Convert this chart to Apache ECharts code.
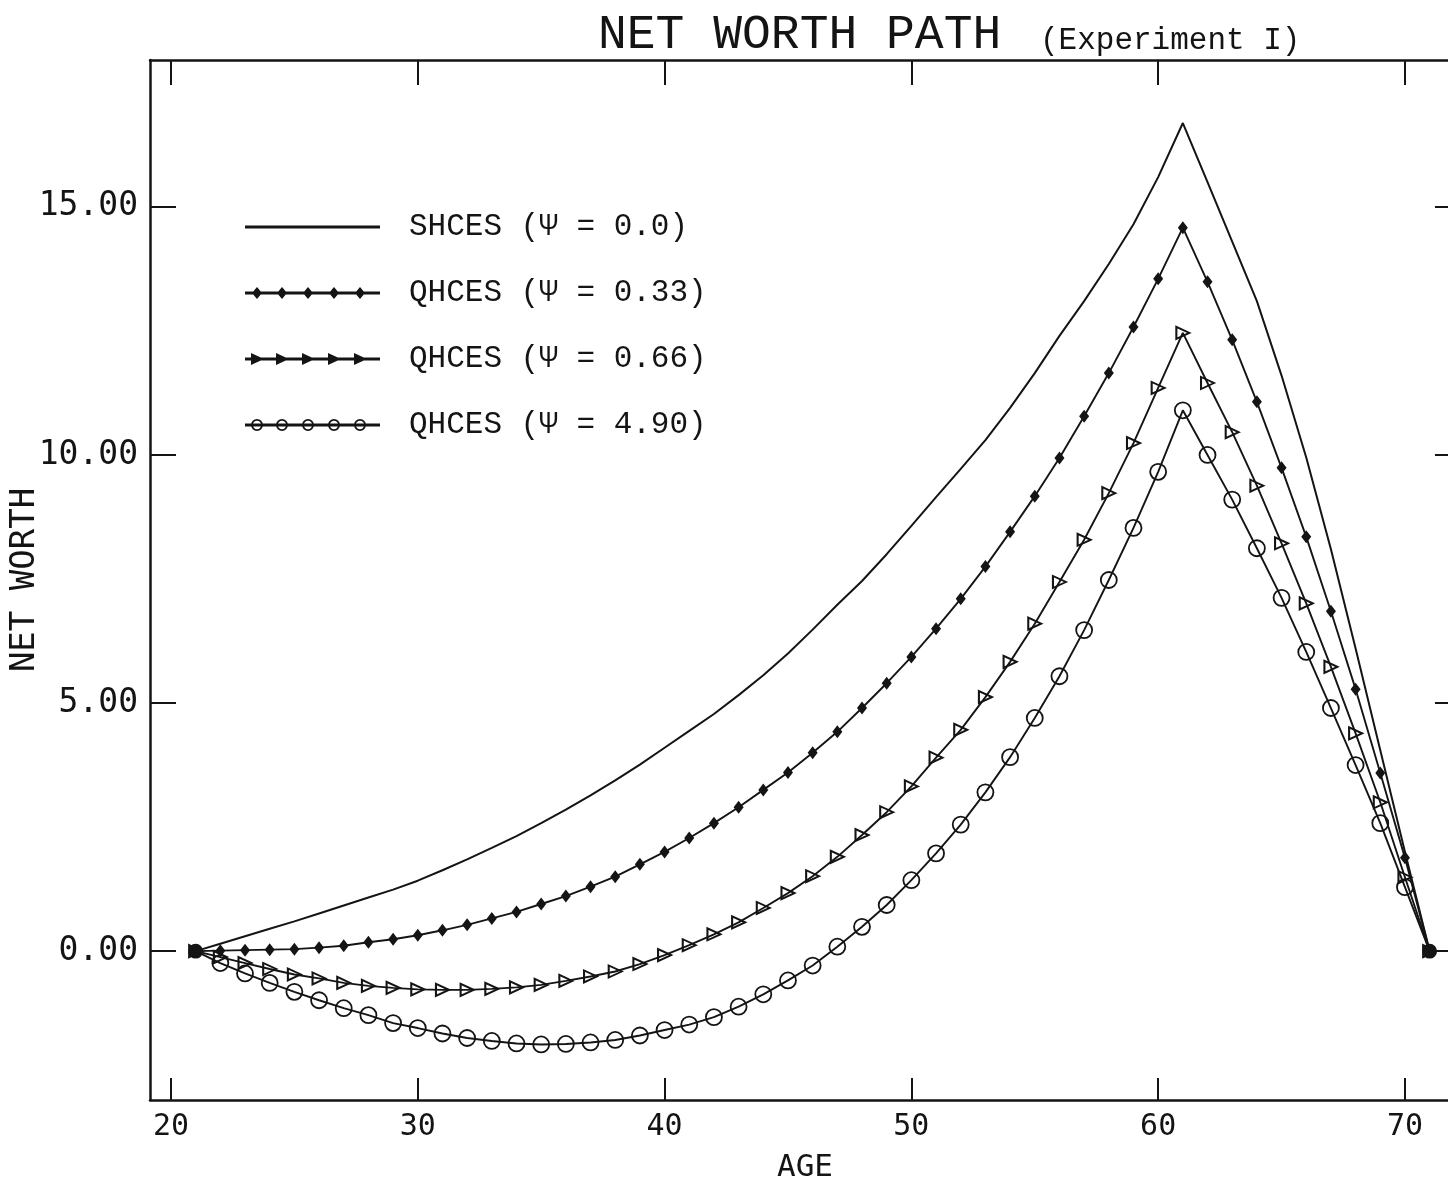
<!DOCTYPE html>
<html>
<head>
<meta charset="utf-8">
<script src="https://cdn.jsdelivr.net/npm/echarts@6/dist/echarts.min.js"></script>
<style>
html,body{margin:0;padding:0;background:#fff;}
#c{width:1448px;height:1187px;}
</style>
</head>
<body>
<div id="c"></div>
<script>
// ---- data ----
const ages = [21,22,23,24,25,26,27,28,29,30,
              31,32,33,34,35,36,37,38,39,40,
              41,42,43,44,45,46,47,48,49,50,
              51,52,53,54,55,56,57,58,59,60,
              61,62,63,64,65,66,67,68,69,70,71];

const shces = [0,0.15,0.3,0.45,0.6,0.76,0.92,1.08,1.24,1.42,
               1.63,1.85,2.08,2.32,2.58,2.85,3.14,3.44,3.76,4.1,
               4.44,4.78,5.16,5.56,6.0,6.48,6.98,7.46,8.0,8.57,
               9.15,9.72,10.3,10.95,11.65,12.4,13.1,13.85,14.65,15.6,
               16.69,15.5,14.3,13.1,11.6,9.95,8.1,6.1,4.05,2.0,0];

const qhces033 = [0,0.01,0.02,0.03,0.04,0.07,0.11,0.18,0.24,0.32,
                  0.42,0.53,0.66,0.79,0.95,1.11,1.3,1.5,1.75,2.0,
                  2.28,2.58,2.9,3.25,3.6,4.0,4.42,4.9,5.4,5.93,
                  6.5,7.1,7.75,8.45,9.17,9.94,10.78,11.65,12.58,13.55,
                  14.58,13.49,12.32,11.07,9.74,8.35,6.85,5.28,3.59,1.88,0];

const qhces066 = [0,-0.12,-0.24,-0.36,-0.47,-0.55,-0.64,-0.7,-0.74,-0.77,
                  -0.78,-0.78,-0.76,-0.73,-0.68,-0.6,-0.51,-0.41,-0.26,-0.08,
                  0.12,0.34,0.58,0.87,1.17,1.51,1.9,2.34,2.8,3.32,
                  3.9,4.46,5.12,5.83,6.6,7.44,8.29,9.23,10.24,11.35,
                  12.46,11.45,10.46,9.38,8.22,7.01,5.73,4.39,3.0,1.49,0];

const qhces490 = [0,-0.24,-0.45,-0.64,-0.82,-0.99,-1.15,-1.29,-1.45,-1.55,
                  -1.66,-1.75,-1.81,-1.86,-1.88,-1.87,-1.84,-1.79,-1.7,-1.59,
                  -1.48,-1.33,-1.12,-0.87,-0.59,-0.29,0.09,0.49,0.93,1.43,
                  1.97,2.55,3.2,3.91,4.7,5.54,6.47,7.48,8.53,9.66,
                  10.9,10.0,9.1,8.12,7.12,6.03,4.9,3.75,2.58,1.29,0];

const xTicks = [20,30,40,50,60,70];
const yTicks = [0,5,10,15];

const seriesNames = ['SHCES (Ψ = 0.0)','QHCES (Ψ = 0.33)','QHCES (Ψ = 0.66)','QHCES (Ψ = 4.90)'];

// ---- styling helpers ----
const ink = '#141414';
const plotFont = 'DejaVu Sans Mono';
const typeFont = 'Liberation Mono';

function pairs(vals){ return ages.map((a,i)=>[a, vals[i]]); }

// legend icon paths (in a 135 x 12 box); zero-area anchors keep the box exact
const legMarks = [12,37,63,89,115];
const anchors = 'M0,0L0.01,0Z M0,12L0.01,12Z';
const legLine = 'M0,4.6L135,4.6L135,7.4L0,7.4Z';
function lineIcon(){ return 'path://' + anchors + legLine; }
function diamondIcon(){
  return 'path://' + anchors + legLine + legMarks.map(x=>`M${x},0L${x+5},6L${x},12L${x-5},6Z`).join('');
}
function triIcon(){
  return 'path://' + anchors + legLine + legMarks.map(x=>`M${x-6},0L${x+7},6L${x-6},12Z`).join('');
}
function ringIcon(){
  const R=6, r=4.2, cy=6;
  return 'path://' + anchors + legLine + legMarks.map(cx=>
    `M${cx-R},${cy}A${R},${R},0,1,1,${cx+R},${cy}A${R},${R},0,1,1,${cx-R},${cy}Z` +
    `M${cx-r},${cy}A${r},${r},0,1,0,${cx+r},${cy}A${r},${r},0,1,0,${cx-r},${cy}Z`).join('');
}

const circleData = pairs(qhces490).map((p,i,arr)=>{
  if (i===0 || i===arr.length-1) {
    return {value:p, symbol:'circle', symbolSize:13, itemStyle:{color:ink, borderColor:ink}};
  }
  return p;
});

const chart = echarts.init(document.getElementById('c'), null, {renderer:'canvas'});

const xBase = {
  type:'value', min:19.15, max:72.23,
  splitLine:{show:false},
  axisLine:{show:true, onZero:false, lineStyle:{color:ink, width:2.5}}
};
const yBase = {
  type:'value', min:-3.0, max:17.96,
  splitLine:{show:false},
  axisLine:{show:true, onZero:false, lineStyle:{color:ink, width:2.5}}
};
const legendItemStyle = {color:ink, borderWidth:0};

chart.setOption({
  animation:false,
  backgroundColor:'#ffffff',
  title:[
    {text:'NET WORTH PATH', left:598, top:11, padding:0,
     textStyle:{fontFamily:typeFont, fontSize:48, fontWeight:'normal', color:ink}},
    {text:'(Experiment I)', left:1040, top:25, padding:0,
     textStyle:{fontFamily:typeFont, fontSize:31, fontWeight:'normal', color:ink}}
  ],
  grid:{left:150, top:60, width:1310, height:1040, containLabel:false, outerBoundsMode:'none', show:false},
  legend:{
    orient:'vertical', left:240, top:206,
    itemWidth:135, itemHeight:12, itemGap:34,
    symbolKeepAspect:false, selectedMode:false,
    textStyle:{fontFamily:typeFont, fontSize:31, color:ink, padding:[0,0,0,24], lineHeight:32},
    data:[
      {name:seriesNames[0], icon:lineIcon(), itemStyle:legendItemStyle},
      {name:seriesNames[1], icon:diamondIcon(), itemStyle:legendItemStyle},
      {name:seriesNames[2], icon:triIcon(), itemStyle:legendItemStyle},
      {name:seriesNames[3], icon:ringIcon(), itemStyle:legendItemStyle}
    ]
  },
  xAxis:[
    Object.assign({}, xBase, {
      position:'bottom',
      axisTick:{show:true, inside:true, length:22, customValues:xTicks, lineStyle:{color:ink, width:2}},
      axisLabel:{show:true, customValues:xTicks, margin:12, fontFamily:plotFont, fontSize:30, color:ink},
      name:'AGE', nameLocation:'middle', nameGap:52, nameMoveOverlap:false,
      nameTextStyle:{fontFamily:plotFont, fontSize:31, color:ink}
    }),
    Object.assign({}, xBase, {
      position:'top',
      axisTick:{show:true, inside:true, length:25, customValues:xTicks, lineStyle:{color:ink, width:2}},
      axisLabel:{show:false, customValues:xTicks}
    })
  ],
  yAxis:[
    Object.assign({}, yBase, {
      position:'left',
      axisTick:{show:true, inside:true, length:26, customValues:yTicks, lineStyle:{color:ink, width:2}},
      axisLabel:{show:true, customValues:yTicks, margin:12, fontFamily:plotFont, fontSize:33, color:ink,
                 formatter:v=>Number(v).toFixed(2)},
      name:'NET WORTH', nameLocation:'middle', nameRotate:90, nameGap:108, nameMoveOverlap:false,
      nameTextStyle:{fontFamily:plotFont, fontSize:34, color:ink}
    }),
    Object.assign({}, yBase, {
      position:'right',
      axisTick:{show:true, inside:true, length:25, customValues:yTicks, lineStyle:{color:ink, width:2}},
      axisLabel:{show:false, customValues:yTicks}
    })
  ],
  series:[
    {name:seriesNames[0], type:'line', data:pairs(shces), symbol:'none',
     lineStyle:{color:ink, width:2}, itemStyle:{color:ink}, silent:true, z:2},
    {name:seriesNames[1], type:'line', data:pairs(qhces033), symbol:'diamond', symbolSize:[10,13],
     lineStyle:{color:ink, width:1.9}, itemStyle:{color:ink}, silent:true, z:3},
    {name:seriesNames[2], type:'line', data:pairs(qhces066), symbol:'triangle', symbolRotate:-90, symbolSize:[12,13],
     lineStyle:{color:ink, width:1.9}, itemStyle:{color:'rgba(0,0,0,0)', borderColor:ink, borderWidth:2}, silent:true, z:4},
    {name:seriesNames[3], type:'line', data:circleData, symbol:'circle', symbolSize:16,
     lineStyle:{color:ink, width:1.9}, itemStyle:{color:'rgba(0,0,0,0)', borderColor:ink, borderWidth:1.8}, silent:true, z:5}
  ]
});
</script>
</body>
</html>
